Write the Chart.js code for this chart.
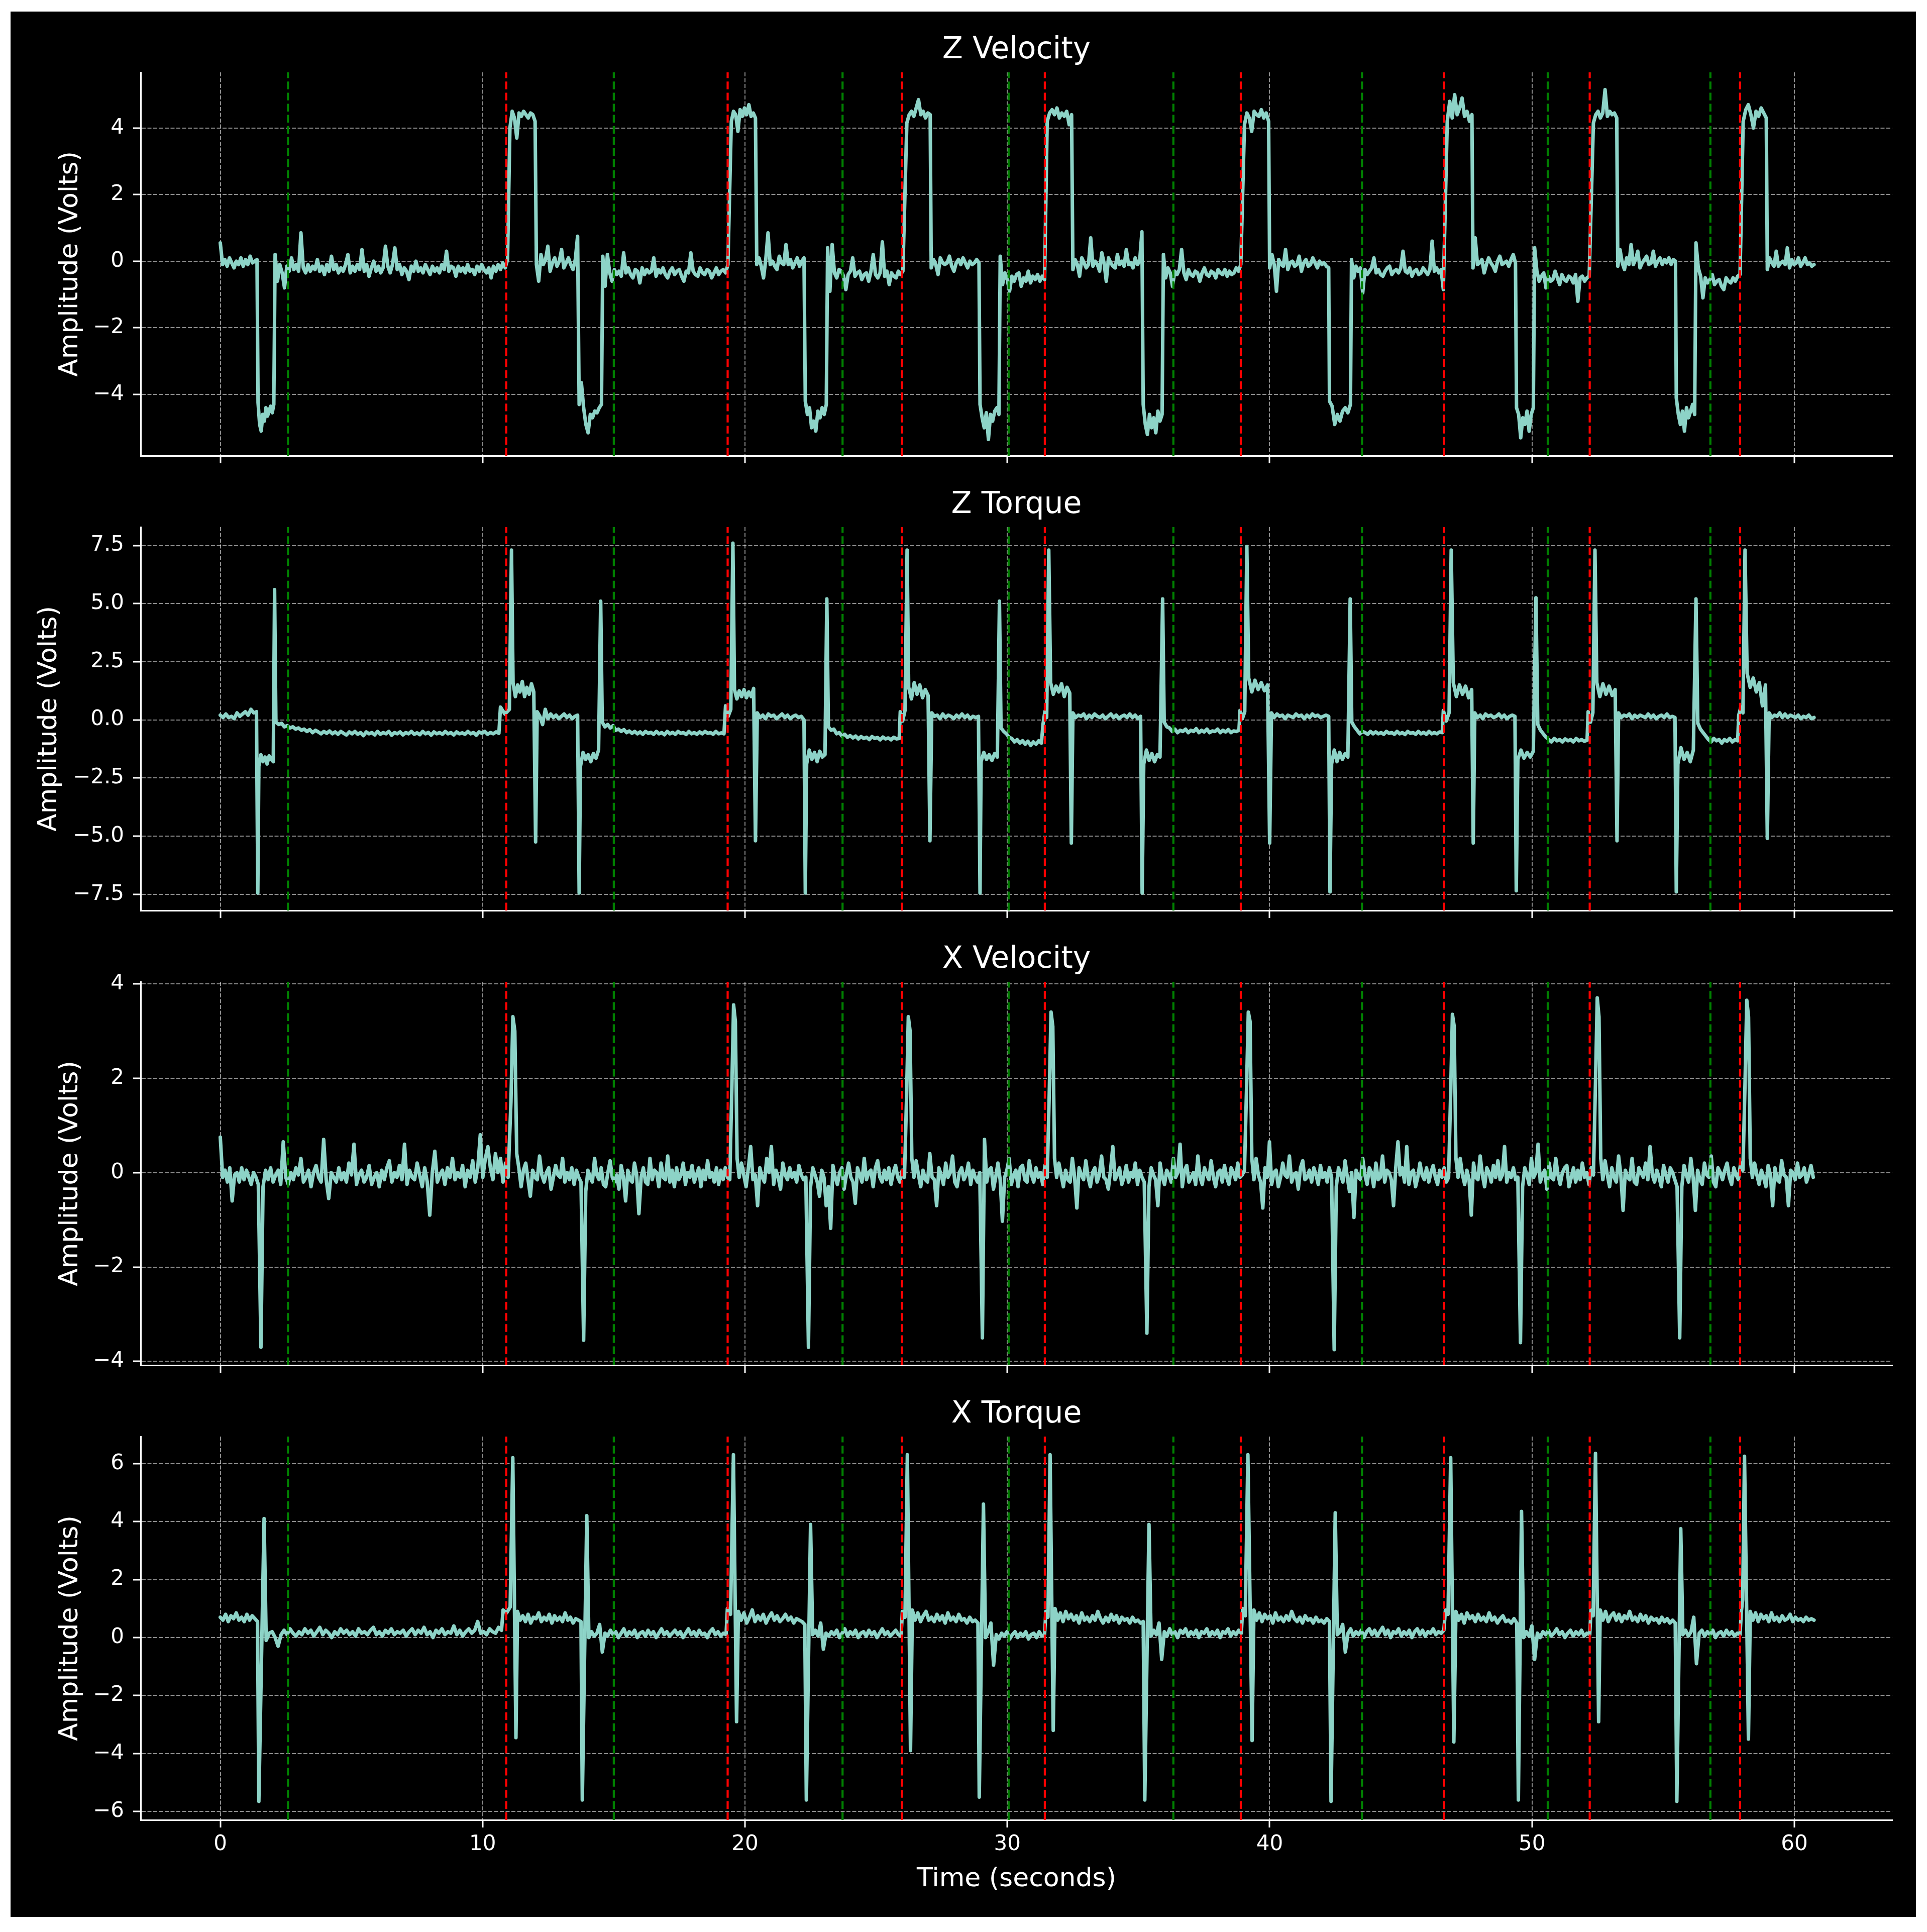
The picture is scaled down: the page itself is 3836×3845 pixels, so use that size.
<!DOCTYPE html>
<html>
<head>
<meta charset="utf-8">
<script src="https://cdn.jsdelivr.net/npm/chart.js@4.4.1/dist/chart.umd.min.js"></script>
<style>
  html, body { margin: 0; padding: 0; background: #fff; }
  body { width: 3836px; height: 3845px; position: relative; overflow: hidden; }
  #frame { position: absolute; left: 21px; top: 23px; width: 3793px; height: 3792px; background: #000; }
  canvas { position: absolute; left: 21px; }
</style>
</head>
<body>
<div id="frame"></div>
<canvas id="zvel" width="3793" height="893" style="top:64px"></canvas>
<canvas id="ztor" width="3793" height="893" style="top:969px"></canvas>
<canvas id="xvel" width="3793" height="893" style="top:1874px"></canvas>
<canvas id="xtor" width="3793" height="993" style="top:2779px"></canvas>
<script>
// ===== Data =====
const timeTicks = [0, 10, 20, 30, 40, 50, 60];
const redLines = [10.9, 19.34, 25.98, 31.43, 38.9, 46.64, 52.2, 57.93];
const greenLines = [2.58, 15.0, 23.72, 30.05, 36.33, 43.52, 50.6, 56.8];

const zVelTicks = [-4, -2, 0, 2, 4];
const zTorqueTicks = [-7.5, -5, -2.5, 0, 2.5, 5, 7.5];
const xVelTicks = [-4, -2, 0, 2, 4];
const xTorqueTicks = [-6, -4, -2, 0, 2, 4, 6];

// segments: [tStart, tEnd, [values...]] or a single sample [t, value]
const zVelocity = [
  [0.00, 1.40, [0.55,-0.1,0.05,-0.15,0.1,-0.05,-0.2,0.0,-0.1,0.1,-0.15,0.05,-0.1,0.15,-0.05,0.0,0.05]],
  [1.44, 2.04, [-4.25,-4.9,-5.1,-4.6,-4.8,-4.4,-4.65,-4.5,-4.35,-4.55,-4.3]],
  [2.09, 10.95, [0.2,-0.6,-0.1,-0.35,-0.8,-0.15,-0.3,0.1,-0.25,-0.1,
    -0.3,0.85,-0.2,-0.35,-0.1,-0.3,-0.15,-0.25,0.05,-0.3,
    -0.15,-0.4,-0.1,-0.3,0.15,-0.25,-0.1,-0.35,-0.2,-0.3,
    -0.1,0.2,-0.35,-0.15,-0.3,-0.1,-0.25,0.35,-0.3,-0.1,
    -0.45,-0.2,0.0,-0.3,-0.15,-0.35,-0.2,0.45,-0.15,-0.35,
    -0.1,0.4,-0.25,-0.1,-0.4,-0.2,-0.3,-0.55,-0.15,-0.3,
    0.0,-0.3,-0.2,-0.35,-0.1,-0.25,-0.4,-0.15,-0.3,-0.2,
    -0.35,-0.1,-0.25,0.3,-0.3,-0.15,-0.2,-0.45,-0.15,-0.3,
    -0.2,-0.35,-0.1,-0.3,-0.25,-0.4,-0.15,-0.3,-0.1,-0.25,
    -0.35,-0.2,-0.5,-0.15,-0.3,-0.1,-0.25,-0.05,-0.2,0.05]],
  [11.04, 12.00, [4.0,4.5,4.3,3.7,4.45,4.35,4.5,4.4,4.3,4.45,4.4,4.2]],
  [12.05, 13.62, [-0.1,-0.6,0.2,-0.1,0.05,0.45,-0.3,-0.05,0.1,-0.15,0.0,0.35,-0.2,-0.05,0.1,-0.1,-0.25,0.05,0.75]],
  [13.68, 14.53, [-4.3,-3.65,-4.4,-4.9,-5.15,-4.6,-4.7,-4.5,-4.55,-4.4,-4.3]],
  [14.58, 19.35, [0.15,-0.75,0.2,-0.35,-0.6,-0.25,-0.4,-0.3,-0.45,0.25,
    -0.35,-0.2,-0.4,-0.5,-0.25,-0.3,-0.65,-0.2,-0.4,-0.25,
    -0.35,-0.3,0.1,-0.45,-0.25,-0.35,-0.2,-0.4,-0.5,-0.3,
    -0.2,-0.4,-0.3,-0.25,-0.45,-0.6,-0.3,-0.35,0.25,-0.3,
    -0.4,-0.45,-0.2,-0.35,-0.4,-0.25,-0.3,-0.5,-0.35,-0.2,
    -0.4,-0.3,-0.25,-0.35,-0.1]],
  [19.48, 20.40, [4.2,4.5,4.4,3.9,4.55,4.35,4.6,4.4,4.7,4.35,4.45,4.3]],
  [20.45, 22.25, [-0.1,0.1,-0.15,-0.5,0.05,0.85,-0.1,0.0,-0.15,-0.25,0.15,-0.05,-0.1,0.5,-0.1,0.05,-0.2,-0.05,0.1,-0.15,0.0,0.1]],
  [22.30, 23.10, [-4.2,-4.6,-4.4,-5.0,-4.8,-5.1,-4.5,-4.7,-4.4,-4.6,-4.3]],
  [23.15, 26.02, [0.4,-0.9,0.5,-0.35,-0.5,-0.25,-0.3,-0.45,-0.85,-0.4,-0.3,0.1,-0.45,-0.35,-0.3,-0.55,-0.4,-0.35,-0.6,-0.3,0.2,-0.4,-0.5,-0.35,0.58,-0.45,-0.3,-0.7,-0.35,-0.45,-0.5,-0.3,-0.4,-0.3]],
  [26.17, 27.06, [4.15,4.4,4.5,4.35,4.6,4.85,4.4,4.5,4.3,4.45,4.4]],
  [27.10, 28.92, [-0.2,0.05,-0.1,-0.4,0.1,-0.05,-0.1,-0.05,0.15,-0.15,-0.3,-0.05,0.05,-0.1,0.1,-0.05,-0.2,0.0,-0.1,-0.05,0.05,-0.05]],
  [28.96, 29.68, [-4.3,-4.7,-5.0,-4.55,-5.35,-4.6,-4.8,-4.5,-4.4,-4.6]],
  [29.73, 31.42, [0.15,-0.7,-0.35,-0.55,-0.9,-0.45,-0.6,-0.4,-0.35,-0.75,-0.5,-0.6,-0.3,-0.65,-0.45,-0.55,-0.4,-0.6,-0.45,-0.55]],
  [31.52, 32.45, [4.2,4.45,4.55,4.4,4.6,4.3,4.45,4.35,4.5,4.1,4.4]],
  [32.50, 35.13, [-0.25,0.05,-0.1,-0.45,0.1,-0.05,-0.2,-0.1,0.7,-0.15,0.0,-0.1,-0.3,0.25,-0.05,-0.6,0.1,-0.05,-0.15,-0.2,0.2,-0.1,0.0,-0.15,0.35,-0.1,-0.05,-0.2,0.1,-0.1,0.0,0.88]],
  [35.18, 35.90, [-4.3,-4.9,-5.2,-4.6,-5.0,-4.7,-5.15,-4.5,-4.8,-4.6]],
  [35.95, 38.90, [0.2,-0.5,-0.2,-0.35,-0.75,-0.3,-0.4,-0.25,0.35,-0.35,-0.55,-0.25,-0.4,-0.45,-0.3,-0.35,-0.6,-0.35,-0.2,-0.4,-0.45,-0.3,-0.35,-0.5,-0.25,-0.35,-0.4,-0.25,-0.45,-0.3,-0.4,-0.35,-0.2,-0.3,-0.1]],
  [39.04, 39.96, [4.1,4.45,4.3,3.9,4.5,4.4,4.35,4.55,4.3,4.45,4.2]],
  [40.00, 42.25, [-0.2,0.2,-0.1,-0.9,0.05,-0.1,-0.15,0.35,-0.25,-0.05,0.0,-0.15,-0.1,0.15,-0.3,-0.05,0.05,-0.15,-0.1,0.1,-0.05,-0.2,0.0,-0.1,-0.05,-0.15,-0.2]],
  [42.28, 43.08, [-4.2,-4.35,-4.9,-4.6,-4.8,-4.5,-4.4,-4.55,-4.3]],
  [43.12, 46.62, [0.05,-0.5,-0.15,-0.3,-0.2,-0.95,-0.25,-0.4,-0.3,-0.2,0.1,-0.35,-0.25,-0.4,-0.45,-0.3,-0.2,-0.15,-0.4,-0.3,-0.25,-0.35,-0.2,0.3,-0.3,-0.35,-0.2,-0.45,-0.3,-0.25,-0.4,-0.35,-0.2,-0.3,-0.4,-0.25,0.6,-0.3,-0.2,-0.35,-0.25,-0.85]],
  [46.77, 47.71, [4.2,4.8,4.3,5.0,4.4,4.6,4.9,4.35,4.5,4.2,4.4]],
  [47.75, 49.37, [-0.2,0.7,-0.1,-0.05,0.05,-0.35,-0.1,0.1,-0.05,-0.15,-0.3,0.0,0.15,-0.1,-0.05,0.0,-0.15,0.05,0.2,-0.05]],
  [49.41, 50.05, [-4.4,-4.6,-5.3,-4.7,-4.9,-4.5,-5.1,-4.6,-4.4]],
  [50.10, 52.18, [0.4,-0.3,-0.6,-0.45,-0.35,-0.8,-0.45,-0.6,-0.55,-0.3,-0.5,-0.7,-0.4,-0.55,-0.6,-0.45,-0.5,-0.65,-0.4,-1.2,-0.5,-0.45,-0.6,-0.5,-0.45]],
  [52.34, 53.23, [4.15,4.4,4.5,4.3,4.45,5.15,4.35,4.5,4.4,4.45,4.3]],
  [53.27, 55.47, [-0.15,0.35,-0.05,-0.25,0.1,-0.1,0.5,-0.1,0.05,0.3,-0.2,-0.05,0.05,0.15,-0.1,-0.05,0.3,-0.15,0.0,0.1,-0.1,0.05,-0.05,0.1,-0.1,0.05,0.0]],
  [55.50, 56.20, [-4.1,-4.6,-4.9,-4.5,-5.1,-4.4,-4.7,-4.5,-4.3,-4.6]],
  [56.25, 57.93, [0.55,-0.2,-0.45,-1.1,-0.5,-0.65,-0.55,-0.4,-0.7,-0.6,-0.55,-0.75,-0.85,-0.5,-0.6,-0.65,-0.5,-0.6,-0.45,-0.4]],
  [58.05, 58.93, [4.2,4.55,4.7,4.4,4.0,4.5,4.35,4.6,4.45,4.3]],
  [58.97, 60.75, [-0.25,0.1,-0.05,-0.15,0.3,-0.15,-0.05,0.0,-0.1,0.4,-0.2,0.05,-0.1,-0.05,0.1,-0.15,-0.05,0.1,-0.1,-0.05,-0.15,-0.1]]
];

const zTorque = [
  [0.00, 1.38, [0.2,0.1,0.25,0.1,0.15,0.05,0.3,0.15,0.25,0.35,0.2,0.45,0.3,0.35]],
  [1.43, -7.45],
  [1.47, 2.02, [-2.0,-1.5,-1.8,-1.6,-1.9,-1.55,-1.7,-1.8]],
  [2.07, 5.6],
  [2.12, 10.62, [-0.1,-0.2,-0.15,-0.3,-0.25,-0.35,-0.3,-0.4,-0.35,-0.45,
    -0.4,-0.5,-0.42,-0.55,-0.45,-0.52,-0.6,-0.5,-0.58,-0.48,
    -0.6,-0.52,-0.62,-0.5,-0.58,-0.65,-0.52,-0.6,-0.5,-0.62,
    -0.55,-0.68,-0.52,-0.6,-0.55,-0.65,-0.5,-0.62,-0.55,-0.6,
    -0.5,-0.66,-0.55,-0.6,-0.52,-0.65,-0.55,-0.6,-0.5,-0.62,
    -0.56,-0.64,-0.5,-0.6,-0.54,-0.66,-0.52,-0.6,-0.55,-0.62,
    -0.5,-0.6,-0.55,-0.65,-0.52,-0.6,-0.56,-0.62,-0.5,-0.6,
    -0.55,-0.66,-0.52,-0.58,-0.5,-0.62,-0.55,-0.6,-0.52,-0.58]],
  [10.68, 11.02, [0.55,0.25,0.45]],
  [11.10, 7.3],
  [11.16, 11.95, [1.6,1.0,1.5,1.2,1.65,1.0,1.4,1.1,1.55,1.2]],
  [12.02, -5.25],
  [12.08, 13.62, [0.35,0.15,-0.2,0.45,0.05,0.25,0.1,0.2,0.05,0.15,0.25,0.1,0.2,0.05,0.15,0.2]],
  [13.68, -7.45],
  [13.73, 14.42, [-2.0,-1.4,-1.7,-1.5,-1.8,-1.45,-1.65,-1.3]],
  [14.50, 5.1],
  [14.56, 19.20, [-0.1,-0.3,-0.2,-0.35,-0.25,-0.45,-0.4,-0.5,-0.42,-0.55,
    -0.48,-0.58,-0.5,-0.6,-0.52,-0.62,-0.5,-0.58,-0.54,-0.62,
    -0.5,-0.6,-0.55,-0.64,-0.5,-0.6,-0.54,-0.62,-0.5,-0.58,
    -0.55,-0.63,-0.5,-0.6,-0.55,-0.62,-0.52,-0.6,-0.5,-0.58,
    -0.55,-0.62,-0.5,-0.6,-0.56,-0.6]],
  [19.26, 19.46, [0.6,0.15,0.45]],
  [19.54, 7.6],
  [19.60, 20.33, [1.3,0.9,1.25,1.0,1.3,0.95,1.2,1.0,1.35]],
  [20.40, -5.2],
  [20.47, 22.25, [0.3,0.1,0.2,0.05,0.25,0.15,0.2,0.05,0.15,0.25,0.1,0.2,0.05,0.15,0.2,0.1,0.15,0.0]],
  [22.30, -7.45],
  [22.35, 23.05, [-1.9,-1.3,-1.7,-1.4,-1.8,-1.35,-1.6,-1.5]],
  [23.12, 5.2],
  [23.18, 25.88, [-0.3,-0.45,-0.4,-0.6,-0.55,-0.7,-0.62,-0.75,-0.68,-0.78,-0.7,-0.82,-0.72,-0.8,-0.75,-0.85,-0.72,-0.8,-0.76,-0.86,-0.74,-0.82,-0.78,-0.86,-0.75,-0.82,-0.8]],
  [25.92, 26.10, [0.35,-0.05,0.4]],
  [26.18, 7.3],
  [26.24, 26.98, [1.4,0.9,1.6,1.1,1.5,0.95,1.3,1.05]],
  [27.05, -5.2],
  [27.12, 28.90, [0.3,0.15,0.2,0.05,0.25,0.1,0.2,0.15,0.05,0.2,0.1,0.25,0.1,0.2,0.05,0.15,0.1,0.15]],
  [28.96, -7.45],
  [29.00, 29.62, [-1.8,-1.4,-1.7,-1.5,-1.75,-1.45,-1.6]],
  [29.70, 5.1],
  [29.76, 31.30, [-0.35,-0.5,-0.6,-0.75,-0.8,-0.95,-0.85,-1.0,-0.9,-1.05,-0.92,-1.1,-0.95,-1.05,-0.9,-1.0]],
  [31.36, 31.50, [-0.2,0.35,0.1]],
  [31.58, 7.3],
  [31.65, 32.38, [1.6,1.1,1.45,1.2,1.55,1.0,1.4,1.15]],
  [32.44, -5.3],
  [32.50, 35.08, [0.3,0.1,0.2,0.15,0.25,0.05,0.2,0.1,0.25,0.15,0.1,0.2,0.05,0.15,0.25,0.1,0.2,0.05,0.15,0.2,0.1,0.25,0.1,0.2,0.05,0.15]],
  [35.14, -7.45],
  [35.20, 35.82, [-1.9,-1.3,-1.75,-1.45,-1.8,-1.5,-1.6]],
  [35.92, 5.2],
  [35.98, 38.83, [-0.1,-0.3,-0.35,-0.5,-0.4,-0.55,-0.45,-0.5,-0.4,-0.55,-0.45,-0.5,-0.38,-0.55,-0.45,-0.52,-0.4,-0.55,-0.48,-0.5,-0.4,-0.55,-0.45,-0.52,-0.42,-0.55,-0.48,-0.5,-0.45]],
  [38.87, 39.05, [0.4,0.05,0.35]],
  [39.13, 7.45],
  [39.20, 39.92, [1.8,1.2,1.7,1.3,1.6,1.25,1.5]],
  [40.00, -5.3],
  [40.07, 42.25, [0.3,0.1,0.25,0.15,0.2,0.05,0.2,0.15,0.1,0.25,0.15,0.2,0.05,0.2,0.1,0.25,0.15,0.2,0.1,0.15,0.2,0.15]],
  [42.30, -7.4],
  [42.36, 42.98, [-1.9,-1.3,-1.8,-1.4,-1.7,-1.45,-1.6]],
  [43.07, 5.2],
  [43.13, 46.58, [-0.1,-0.3,-0.45,-0.6,-0.5,-0.55,-0.62,-0.5,-0.6,-0.52,-0.6,-0.55,-0.62,-0.5,-0.58,-0.55,-0.62,-0.5,-0.6,-0.55,-0.63,-0.5,-0.58,-0.55,-0.62,-0.5,-0.6,-0.54,-0.62,-0.5,-0.6,-0.55,-0.6,-0.52,-0.55]],
  [46.62, 46.84, [0.4,-0.05,0.3]],
  [46.92, 7.3],
  [47.00, 47.70, [1.6,1.0,1.5,1.1,1.45,0.95,1.3]],
  [47.76, -5.3],
  [47.82, 49.35, [0.3,0.1,0.2,0.05,0.25,0.15,0.2,0.1,0.15,0.25,0.1,0.2,0.05,0.15,0.2,0.15]],
  [49.40, -7.35],
  [49.46, 50.05, [-1.7,-1.3,-1.65,-1.4,-1.6,-1.35]],
  [50.15, 5.25],
  [50.22, 52.10, [-0.2,-0.45,-0.6,-0.75,-0.85,-0.95,-0.8,-0.9,-0.85,-0.95,-0.82,-0.9,-0.85,-0.95,-0.8,-0.9,-0.85,-0.92,-0.88]],
  [52.14, 52.32, [0.35,-0.1,0.3]],
  [52.40, 7.3],
  [52.47, 53.17, [1.6,1.0,1.55,1.1,1.45,1.05,1.3]],
  [53.24, -5.2],
  [53.30, 55.45, [0.3,0.1,0.2,0.15,0.25,0.05,0.2,0.1,0.2,0.15,0.1,0.25,0.1,0.2,0.05,0.15,0.2,0.1,0.25,0.1,0.15,0.1]],
  [55.50, -7.4],
  [55.56, 56.15, [-1.9,-1.2,-1.7,-1.4,-1.8,-1.3]],
  [56.25, 5.2],
  [56.32, 57.84, [-0.15,-0.4,-0.55,-0.7,-0.85,-0.95,-0.8,-0.9,-0.85,-1.0,-0.85,-0.92,-0.8,-0.95,-0.85,-0.9]],
  [57.88, 58.04, [0.2,0.55,0.3]],
  [58.12, 7.3],
  [58.20, 58.90, [2.0,1.4,1.8,1.2,1.6,0.6,1.5]],
  [58.97, -5.1],
  [59.04, 60.75, [0.3,0.1,0.2,0.15,0.3,0.1,0.25,0.1,0.2,0.15,0.1,0.2,0.05,0.15,0.1,0.2,0.05,0.1]]
];

const xVelocity = [
  [0.00, 1.45, [0.75,-0.1,0.05,-0.2,0.1,-0.6,-0.05,0.0,-0.2,0.1,-0.15,0.05,-0.1,-0.25,0.0,-0.1,-0.25]],
  [1.55, -3.7],
  [1.63, 10.97, [-0.3,0.05,-0.15,0.1,-0.2,-0.05,0.05,-0.25,0.65,-0.1,
    -0.25,0.0,-0.15,0.1,-0.05,0.3,-0.2,-0.1,0.05,-0.3,
    0.0,0.15,-0.1,-0.2,0.7,-0.15,-0.55,0.0,-0.1,-0.2,
    0.1,-0.15,0.0,-0.2,0.2,-0.05,0.6,-0.25,-0.05,0.05,
    -0.2,-0.1,0.15,-0.25,-0.1,0.0,-0.3,0.05,-0.15,0.1,
    0.25,-0.2,0.0,-0.1,0.15,-0.15,0.6,-0.25,0.05,-0.1,
    -0.15,0.2,-0.05,-0.3,0.1,-0.2,-0.9,0.0,0.45,-0.2,
    -0.05,0.05,-0.25,0.1,-0.1,0.3,-0.15,0.0,-0.1,0.15,
    -0.3,0.05,-0.1,0.25,-0.2,0.1,0.8,-0.1,0.3,0.55,
    0.1,-0.15,0.4,0.0,0.3,-0.2,0.2,-0.1]],
  [11.08, 11.30, [1.5,3.3,3.0,0.4]],
  [11.38, 13.75, [0.1,-0.3,0.05,0.2,-0.15,-0.5,0.05,-0.1,-0.15,0.35,-0.05,-0.2,0.0,0.1,-0.35,-0.1,0.15,-0.05,-0.1,0.3,-0.2,0.0,-0.15,0.1,-0.25,0.05,-0.1,-0.2]],
  [13.85, -3.55],
  [13.93, 19.42, [-0.4,0.05,-0.1,-0.2,0.3,-0.05,-0.15,0.1,-0.25,-0.3,
    0.0,0.25,-0.1,-0.2,-0.05,-0.35,0.15,-0.1,-0.6,0.05,
    -0.15,-0.2,0.2,-0.05,-0.87,-0.1,0.1,-0.2,-0.25,0.3,
    -0.15,0.05,0.0,-0.3,0.2,-0.1,-0.15,0.35,-0.2,0.05,
    -0.3,0.1,-0.15,-0.05,0.2,-0.25,0.0,-0.1,0.15,-0.2,
    -0.05,0.1,-0.3,0.05,-0.15,0.25,-0.1,0.0,-0.2,0.1,
    -0.25,0.05,-0.15,0.1,-0.1,-0.15]],
  [19.50, 19.70, [1.8,3.55,3.2,0.3]],
  [19.78, 22.32, [-0.1,0.2,-0.05,-0.3,0.1,0.55,-0.15,-0.05,-0.7,0.1,-0.1,-0.2,0.3,0.0,0.55,-0.25,0.05,-0.1,-0.35,0.2,-0.05,-0.15,0.1,-0.1,0.0,-0.2,0.15,-0.05,-0.15,-0.1]],
  [22.42, -3.7],
  [22.50, 26.08, [-0.3,0.1,-0.05,-0.2,-0.5,0.05,-0.1,-0.7,-0.3,-1.18,0.15,-0.1,-0.25,0.0,0.1,-0.35,-0.05,0.2,-0.1,-0.2,-0.65,0.1,-0.05,-0.2,0.3,-0.15,0.0,0.05,-0.3,0.1,0.25,-0.1,-0.2,0.05,-0.15,0.1,-0.25,0.0,0.15,-0.1,-0.2,0.05,-0.1]],
  [26.16, 26.36, [1.6,3.3,3.0,0.3]],
  [26.44, 28.95, [-0.1,0.25,-0.05,-0.3,0.05,-0.15,-0.2,0.4,-0.1,-0.15,-0.7,0.1,-0.05,-0.25,0.2,-0.1,0.0,0.35,-0.2,-0.3,0.0,0.1,-0.15,-0.05,0.2,-0.25,0.05,-0.1,-0.2,0.0]],
  [29.05, -3.5],
  [29.13, 31.52, [0.7,-0.2,0.05,0.1,-0.35,-0.1,0.2,-0.15,-1.03,-0.1,0.05,0.3,-0.25,-0.05,0.05,-0.3,0.1,0.15,-0.15,-0.2,0.25,-0.05,-0.2,0.1,-0.1,0.0,-0.25,0.15,-0.1]],
  [31.60, 31.80, [1.7,3.4,3.1,0.3]],
  [31.88, 35.22, [-0.1,0.2,-0.05,-0.3,0.05,-0.15,-0.2,0.3,-0.1,-0.75,0.1,-0.05,-0.15,0.25,-0.1,-0.3,0.0,0.1,-0.2,-0.05,0.35,-0.1,-0.15,-0.35,0.05,0.55,-0.15,-0.05,0.1,-0.25,-0.1,0.15,-0.2,0.0,-0.1,0.2,-0.25,0.05,-0.1,-0.2]],
  [35.32, -3.4],
  [35.40, 39.04, [-0.3,0.1,-0.05,-0.15,-0.7,0.2,-0.1,-0.25,0.05,-0.05,-0.2,0.3,-0.1,0.0,0.6,-0.3,0.05,0.15,-0.2,-0.1,0.0,-0.25,0.35,-0.1,-0.25,0.1,-0.05,-0.15,0.25,-0.1,-0.3,0.0,0.05,-0.2,0.15,-0.1,-0.25,0.1,0.0,-0.15,0.2,-0.1,-0.05,0.05]],
  [39.12, 39.32, [1.8,3.4,3.2,0.3]],
  [39.40, 42.36, [-0.15,0.3,-0.05,-0.2,-0.75,0.1,-0.1,0.65,-0.25,0.0,0.05,-0.3,-0.1,0.2,-0.05,-0.1,0.35,-0.2,-0.05,0.0,-0.35,0.1,0.25,-0.15,-0.1,0.05,-0.2,0.1,-0.05,-0.25,0.15,-0.1,0.0,-0.2,0.1,-0.1]],
  [42.46, -3.75],
  [42.54, 46.82, [-0.3,0.1,-0.05,-0.2,0.25,-0.1,-0.4,0.0,-0.95,0.05,-0.1,-0.15,0.3,-0.05,-0.25,0.1,0.0,-0.3,0.2,-0.15,-0.1,0.35,-0.2,0.05,0.0,-0.15,-0.7,0.1,0.65,-0.05,0.1,-0.2,0.55,-0.25,0.0,0.05,-0.3,-0.1,0.2,-0.05,-0.15,0.1,-0.2,0.0,0.15,-0.1,-0.25,0.05,-0.1,0.1,-0.2,-0.1]],
  [46.90, 47.10, [1.7,3.35,3.1,0.3]],
  [47.18, 49.46, [-0.1,0.3,-0.05,-0.25,0.05,-0.15,-0.9,0.2,-0.1,-0.15,0.35,-0.05,-0.3,0.1,0.0,-0.2,0.15,-0.1,0.25,-0.15,-0.05,0.55,-0.2,0.0,-0.1,0.1,-0.15,-0.1]],
  [49.56, -3.6],
  [49.64, 52.34, [-0.3,0.1,-0.05,-0.25,0.3,-0.1,0.0,0.6,-0.2,-0.05,0.05,-0.35,0.2,-0.1,-0.15,0.3,-0.05,-0.25,0.0,0.1,0.15,-0.3,-0.1,0.1,-0.2,0.05,-0.15,0.2,-0.1,0.0,-0.25,0.1,-0.05]],
  [52.42, 52.62, [1.9,3.7,3.3,0.3]],
  [52.70, 55.53, [-0.15,0.25,-0.05,-0.3,0.1,-0.1,-0.2,0.35,-0.05,-0.8,0.05,-0.1,-0.15,0.3,-0.2,-0.25,0.1,0.0,-0.1,0.2,-0.15,0.55,-0.05,-0.2,0.05,-0.1,-0.3,0.15,-0.05,-0.2,0.1,0.0,-0.15,-0.3]],
  [55.63, -3.5],
  [55.71, 58.04, [-0.3,0.15,-0.05,-0.2,0.3,-0.1,-0.8,0.05,-0.15,-0.25,0.2,-0.05,-0.1,0.35,-0.2,-0.3,0.1,0.0,-0.15,0.05,0.2,-0.1,-0.25,0.1,-0.05,-0.15,0.2,0.05]],
  [58.12, 58.32, [1.9,3.65,3.3,0.3]],
  [58.40, 60.72, [-0.1,0.2,-0.05,-0.25,0.05,-0.1,-0.3,0.15,-0.05,-0.7,0.1,-0.15,-0.2,0.25,-0.05,-0.1,-0.7,0.05,0.0,-0.15,0.2,-0.1,-0.05,0.1,-0.2,-0.05,0.15,-0.1]]
];

const xTorque = [
  [0.00, 1.42, [0.7,0.6,0.8,0.55,0.75,0.65,0.85,0.6,0.7,0.55,0.8,0.6,0.75,0.65,0.55]],
  [1.47, -5.65],
  [1.67, 4.1],
  [1.75, 10.72, [-0.1,0.15,0.2,0.0,-0.3,0.1,0.25,0.1,0.3,0.15,
    0.05,0.2,0.1,0.3,0.15,0.25,0.05,0.2,0.35,0.1,
    0.25,0.15,0.0,0.2,0.1,0.3,0.15,0.25,0.1,0.2,
    0.05,0.3,0.15,0.2,0.1,0.25,0.35,0.1,0.2,0.05,
    0.25,0.15,0.3,0.1,0.2,0.15,0.25,0.05,0.2,0.3,
    0.1,0.25,0.15,0.35,0.1,0.2,0.0,0.25,0.15,0.3,
    0.1,0.2,0.15,0.4,0.1,0.25,0.05,0.2,0.3,0.15,
    0.25,0.55,0.15,0.2,0.1,0.3,0.2,0.15,0.35,0.25]],
  [10.78, 11.05, [0.95,0.85,1.05]],
  [11.15, 6.2],
  [11.27, -3.45],
  [11.33, 13.75, [0.9,0.6,0.75,0.55,0.8,0.5,0.7,0.65,0.85,0.55,0.7,0.6,0.8,0.5,0.75,0.6,0.7,0.55,0.85,0.6,0.7,0.5,0.65,0.6,0.55]],
  [13.80, -5.6],
  [13.97, 4.2],
  [14.05, 19.28, [0.0,0.2,0.05,0.15,0.45,-0.5,0.15,0.05,0.25,0.1,0.2,0.0,0.15,0.3,0.05,0.2,0.1,0.25,0.0,0.15,0.2,0.05,0.25,0.1,0.2,0.0,0.15,0.3,0.1,0.2,0.05,0.15,0.25,0.1,0.2,0.0,0.15,0.3,0.1,0.2,0.05,0.25,0.1,0.15,0.0,0.2,0.3,0.1,0.2,0.05,0.15,0.1]],
  [19.33, 19.45, [1.0,0.8]],
  [19.56, 6.3],
  [19.68, -2.9],
  [19.75, 22.28, [0.9,0.6,0.85,0.5,0.7,0.95,0.55,0.75,0.6,0.8,0.5,0.7,0.85,0.6,0.75,0.55,0.65,0.8,0.6,0.7,0.5,0.65,0.6,0.55,0.45]],
  [22.34, -5.6],
  [22.50, 3.9],
  [22.58, 25.95, [0.1,0.25,0.05,0.5,-0.4,0.15,0.05,0.2,0.1,0.25,0.0,0.15,0.3,0.05,0.2,0.1,0.25,0.0,0.15,0.2,0.05,0.25,0.1,0.2,0.0,0.15,0.3,0.1,0.2,0.05,0.15,0.25,0.1,0.05]],
  [26.00, 26.10, [0.9,0.7]],
  [26.19, 6.3],
  [26.31, -3.9],
  [26.38, 28.88, [0.95,0.6,0.85,0.55,0.75,0.9,0.6,0.7,0.55,0.8,0.6,0.75,0.5,0.85,0.6,0.7,0.55,0.8,0.6,0.65,0.5,0.7,0.55,0.6,0.5]],
  [28.93, -5.5],
  [29.09, 4.6],
  [29.17, 31.42, [0.0,0.2,0.5,-0.95,0.1,-0.05,0.15,0.05,0.2,-0.05,0.1,0.2,0.0,0.15,0.05,0.2,-0.05,0.1,0.15,0.0,0.2,0.05,0.1]],
  [31.47, 31.55, [0.9,0.7]],
  [31.63, 6.3],
  [31.75, -3.2],
  [31.82, 35.18, [1.0,0.6,0.85,0.55,0.9,0.65,0.8,0.6,0.75,0.5,0.85,0.6,0.7,0.55,0.75,0.6,0.9,0.65,0.5,0.7,0.55,0.8,0.6,0.75,0.5,0.7,0.6,0.65,0.5,0.7,0.55,0.6,0.5,0.55]],
  [35.24, -5.6],
  [35.40, 3.9],
  [35.48, 38.92, [0.05,0.25,0.1,0.5,-0.75,0.2,0.05,0.3,0.1,0.2,0.0,0.25,0.15,0.3,0.05,0.2,0.1,0.25,0.0,0.2,0.15,0.3,0.05,0.2,0.1,0.25,0.0,0.2,0.15,0.3,0.05,0.2,0.1,0.25,0.15]],
  [38.97, 39.07, [1.0,0.75]],
  [39.17, 6.3],
  [39.33, -3.55],
  [39.40, 42.28, [0.95,0.6,0.85,0.55,0.8,0.65,0.75,0.5,0.85,0.6,0.7,0.55,0.75,0.6,0.9,0.65,0.55,0.7,0.5,0.75,0.6,0.65,0.5,0.7,0.55,0.6,0.5,0.65,0.55]],
  [42.34, -5.65],
  [42.50, 4.3],
  [42.58, 46.64, [0.1,0.2,0.45,-0.5,0.15,0.3,0.05,0.2,0.1,0.25,0.0,0.2,0.3,0.1,0.25,0.05,0.2,0.35,0.1,0.25,0.0,0.2,0.15,0.3,0.05,0.2,0.1,0.25,0.0,0.2,0.3,0.1,0.25,0.05,0.2,0.15,0.3,0.1,0.2,0.15,0.25]],
  [46.70, 46.80, [0.95,0.8]],
  [46.90, 6.2],
  [47.02, -3.6],
  [47.10, 49.42, [0.9,0.6,0.8,0.5,0.85,0.65,0.75,0.55,0.8,0.6,0.7,0.55,0.85,0.6,0.7,0.5,0.65,0.75,0.55,0.6,0.5,0.65,0.5]],
  [49.48, -5.6],
  [49.60, 4.35],
  [49.68, 52.20, [0.0,0.2,0.05,0.4,-0.75,0.15,0.0,0.2,0.1,0.25,0.05,0.15,0.3,0.1,0.2,0.0,0.15,0.25,0.05,0.2,0.1,0.25,0.05,0.15,0.1]],
  [52.25, 52.33, [0.95,0.75]],
  [52.42, 6.35],
  [52.54, -2.9],
  [52.60, 55.46, [0.95,0.6,0.9,0.55,0.75,0.85,0.6,0.8,0.55,0.75,0.65,0.9,0.6,0.7,0.55,0.8,0.6,0.75,0.5,0.7,0.6,0.65,0.5,0.7,0.55,0.65,0.5,0.6,0.5]],
  [55.52, -5.65],
  [55.67, 3.75],
  [55.75, 57.93, [0.1,0.25,0.05,0.2,0.7,-0.9,0.15,0.25,0.05,0.2,0.1,0.25,0.0,0.15,0.2,0.05,0.25,0.1,0.2,0.05,0.15,0.1]],
  [57.98, 58.03, [0.9,1.3]],
  [58.10, 6.25],
  [58.25, -3.5],
  [58.32, 60.75, [0.9,0.6,0.85,0.55,0.8,0.65,0.75,0.55,0.85,0.6,0.7,0.55,0.75,0.6,0.65,0.8,0.55,0.7,0.6,0.65,0.55,0.7,0.6,0.65,0.6]]
];

// ===== Helpers =====
function toPoints(segments) {
  const pts = [];
  segments.forEach(seg => {
    if (seg.length === 2) { pts.push({ x: seg[0], y: seg[1] }); return; }
    const [t0, t1, vals] = seg;
    const n = vals.length;
    vals.forEach((v, i) => {
      pts.push({ x: n > 1 ? t0 + (t1 - t0) * i / (n - 1) : t0, y: v });
    });
  });
  return pts;
}

// vertical marker lines spanning the whole y range, broken by null gaps
function markerLines(xs, lo, hi) {
  return xs.flatMap(x => [{ x, y: lo }, { x, y: hi }, { x, y: null }]);
}

const FONT = 'DejaVu Sans';
const X_MIN = -3.035, X_MAX = 63.735;

Chart.defaults.color = '#fff';
Chart.defaults.font.family = FONT;

const gridOpts = { color: 'rgba(255,255,255,0.55)', lineWidth: 2, tickColor: '#fff', tickWidth: 3, tickLength: 15 };
const borderOpts = { color: '#fff', width: 3, dash: [8, 3.5] }; // dash applies to grid lines

// yLabelPad: the y label sits further left when the tick labels are wider
function makeChart(id, title, segments, yMin, yMax, yTicks, decimals, yLabelPad, bottom) {
  const fmt = v => (v < 0 ? '\u2212' : '') + Math.abs(v).toFixed(decimals);
  new Chart(document.getElementById(id), {
    type: 'line',
    data: {
      datasets: [
        { data: markerLines(redLines, yMin, yMax), borderColor: '#ff0000', borderWidth: 4.2, borderDash: [15.4, 6.7], order: 0 },
        { data: markerLines(greenLines, yMin, yMax), borderColor: '#008000', borderWidth: 4.2, borderDash: [15.4, 6.7], order: 0 },
        { data: toPoints(segments), borderColor: '#8dd3c7', borderWidth: 7,
          borderJoinStyle: 'round', borderCapStyle: 'round', order: 1 }
      ]
    },
    options: {
      responsive: false,
      animation: false,
      events: [],
      layout: { padding: { left: 0, right: 47, top: 0, bottom: 0 } },
      elements: { point: { radius: 0 }, line: { tension: 0 } },
      plugins: {
        legend: { display: false },
        tooltip: { enabled: false },
        title: {
          display: true, text: title, color: '#fff', fullSize: false,
          font: { family: FONT, size: 60, weight: 'normal' },
          padding: { top: 0, bottom: 8 }
        }
      },
      scales: {
        x: {
          type: 'linear', min: X_MIN, max: X_MAX,
          afterBuildTicks: s => { s.ticks = timeTicks.map(v => ({ value: v })); },
          afterFit: s => { s.height = bottom ? 150 : 50; },
          ticks: { display: bottom, color: '#fff', font: { family: FONT, size: 42 }, padding: 9,
                   maxRotation: 0, autoSkip: false, callback: v => String(v) },
          grid: gridOpts,
          border: borderOpts,
          title: { display: bottom, text: 'Time (seconds)', color: '#fff',
                   font: { family: FONT, size: 52 }, padding: { top: 0, bottom: 0 } }
        },
        y: {
          type: 'linear', min: yMin, max: yMax,
          afterBuildTicks: s => { s.ticks = yTicks.map(v => ({ value: v })); },
          afterFit: s => { s.width = 259; },
          ticks: { color: '#fff', font: { family: FONT, size: 42 }, padding: 18,
                   autoSkip: false, callback: v => fmt(v) },
          grid: gridOpts,
          border: borderOpts,
          title: { display: true, text: 'Amplitude (Volts)', color: '#fff',
                   font: { family: FONT, size: 52 }, padding: { top: yLabelPad, bottom: 0 } }
        }
      }
    }
  });
}

makeChart('zvel', 'Z Velocity', zVelocity, -5.84, 5.67, zVelTicks, 0, 88, false);
makeChart('ztor', 'Z Torque', zTorque, -8.2, 8.29, zTorqueTicks, 1, 46, false);
makeChart('xvel', 'X Velocity', xVelocity, -4.08, 4.04, xVelTicks, 0, 88, false);
makeChart('xtor', 'X Torque', xTorque, -6.29, 6.93, xTorqueTicks, 0, 88, true);
</script>
</body>
</html>
